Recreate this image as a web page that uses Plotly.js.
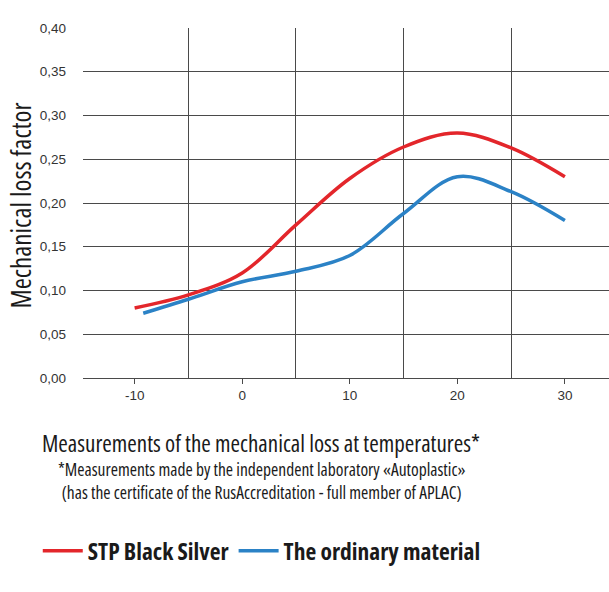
<!DOCTYPE html>
<html>
<head>
<meta charset="utf-8">
<script src="https://cdn.plot.ly/plotly-3.0.1.min.js"></script>
<style>
  html, body { margin: 0; padding: 0; background: #fff; }
  #chart { width: 609px; height: 592px; }
  /* the original uses a condensed face; Open Sans is variable in width.
     Not scoped to #chart so Plotly's text measuring clones get it too */
  text.annotation-text, text.legendtext { font-stretch: 75%; }
</style>
</head>
<body>
<div id="chart"></div>
<script>
// temperatures, deg C
let redTemps = [-10, -5, 0, 5, 10, 15, 20, 25, 30];
let redLoss = [0.080, 0.095, 0.120, 0.175, 0.228, 0.264, 0.280, 0.263, 0.230];
let blueTemps = [-9.2, -5, 0, 5, 10, 15, 20, 25, 30];
let blueLoss = [0.074, 0.090, 0.110, 0.122, 0.140, 0.188, 0.230, 0.213, 0.180];
let seriesNames = ['STP Black Silver', 'The ordinary material'];
let xTickVals = [-10, 0, 10, 20, 30];
let xTickText = ['-10', '0', '10', '20', '30'];

let narrow = "'Open Sans', sans-serif";
let plain = "'Liberation Sans', Arial, sans-serif";
let gridColor = '#4a4a4a';
let textColor = '#1a1a1a';

let traces = [
    {
        type: 'scatter',
        mode: 'lines',
        name: seriesNames[0],
        x: redTemps,
        y: redLoss,
        line: { color: '#e3262b', width: 3.5, shape: 'spline', smoothing: 1 }
    },
    {
        type: 'scatter',
        mode: 'lines',
        name: seriesNames[1],
        x: blueTemps,
        y: blueLoss,
        line: { color: '#2b82c6', width: 3.5, shape: 'spline', smoothing: 1 }
    }
];

let note = function (text, x, y, size, angle) {
    return {
        text: text,
        xref: 'paper', yref: 'paper',
        x: x, y: y,
        xanchor: 'center', yanchor: 'middle',
        textangle: angle || 0,
        showarrow: false,
        font: { family: narrow, size: size, color: textColor }
    };
};

let layout = {
    width: 609,
    height: 592,
    paper_bgcolor: '#fff',
    plot_bgcolor: '#fff',
    separators: ', ',
    margin: { t: 28, r: 0, b: 214, l: 83 },
    showlegend: true,
    legend: {
        orientation: 'h',
        x: -0.086,
        xanchor: 'left',
        y: -0.494,
        yanchor: 'middle',
        font: { family: narrow, size: 23.5, color: textColor, weight: 'bold' },
        itemwidth: 40,
        traceorder: 'normal'
    },
    xaxis: {
        range: [-14.8, 34.1],
        tickmode: 'array',
        tickvals: xTickVals,
        ticktext: xTickText,
        showgrid: false,
        zeroline: false,
        showline: true,
        linecolor: gridColor,
        linewidth: 1,
        ticks: 'outside',
        ticklen: 5,
        tickcolor: gridColor,
        tickfont: { family: plain, size: 13.5, color: '#333' },
        minor: {
            tick0: 5,
            dtick: 10,
            showgrid: true,
            gridcolor: gridColor,
            gridwidth: 1,
            ticks: ''
        }
    },
    yaxis: {
        range: [0, 0.4],
        dtick: 0.05,
        tickformat: '.2f',
        showgrid: true,
        gridcolor: gridColor,
        gridwidth: 1,
        zeroline: false,
        showline: false,
        ticks: '',
        ticklabelstandoff: 16,
        tickfont: { family: plain, size: 13.5, color: '#333' }
    },
    annotations: [
        note('Mechanical loss factor', -0.119, 0.494, 27, -90),
        note('Measurements of the mechanical loss at temperatures*', 0.339, -0.186, 23),
        note('*Measurements made by the independent laboratory «Autoplastic»<br>' +
             '(has the certificate of the RusAccreditation - full member of APLAC)', 0.34, -0.293, 17.5)
    ]
};

Plotly.newPlot('chart', traces, layout, { displayModeBar: false, staticPlot: true });
</script>
</body>
</html>
